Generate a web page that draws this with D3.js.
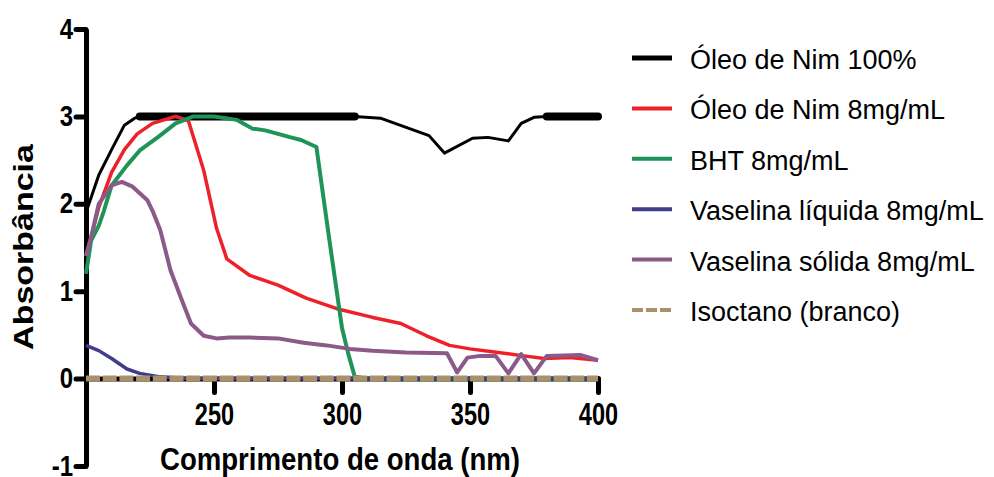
<!DOCTYPE html>
<html>
<head>
<meta charset="utf-8">
<script src="https://cdn.jsdelivr.net/npm/d3@7"></script>
<style>
  body { margin: 0; background: #fff; }
  svg { display: block; }
</style>
</head>
<body>
<svg></svg>
<script>
// Absorbance spectra, values as [nm, absorbance]
const oleoNim100 = [[200,1.9],[205,2.33],[210,2.62],[215,2.9],[219,2.98],[221,3],[260,3],[305,3],
  [315,2.98],[334,2.78],[340,2.58],[351,2.75],[357,2.76],[365,2.72],[370,2.92],[375,2.99],[380,3],[400,3]];
const oleoNim8 = [[200,1.42],[202,1.62],[205,1.96],[210,2.36],[215,2.62],[220,2.8],[226,2.92],[235,3.0],
  [240,2.95],[246,2.38],[251,1.72],[255,1.37],[264,1.18],[275,1.07],[286,0.92],[298,0.8],[312,0.7],
  [323,0.63],[333,0.49],[342,0.38],[350,0.34],[358,0.31],[371,0.26],[379,0.23],[389,0.24],[400,0.21]];
const bht8 = [[200,1.2],[202,1.58],[205,1.75],[207,1.92],[210,2.21],[216,2.44],[221,2.61],[228,2.76],
  [235,2.92],[242,3.0],[250,3.0],[259,2.96],[265,2.86],[270,2.84],[280,2.76],[284,2.73],[290,2.65],
  [295,1.6],[300,0.58],[302.5,0.28],[305,0.02],[310,0],[400,0]];
const vaselinaLiquida = [[200,0.38],[205,0.32],[210,0.23],[216,0.11],[221,0.06],[229,0.02],[240,0],[400,0]];
const vaselinaSolida = [[200,1.4],[202,1.62],[205,2.0],[210,2.21],[214,2.25],[218,2.2],[224,2.04],
  [226,1.92],[229,1.7],[233,1.24],[237,0.93],[241,0.63],[246,0.49],[251,0.46],[256,0.47],[264,0.47],
  [275,0.46],[285,0.41],[294,0.38],[303,0.34],[312,0.32],[325,0.3],[341,0.29],[345,0.07],[349,0.24],
  [354,0.26],[360,0.26],[365,0.06],[370,0.28],[375,0.06],[380,0.26],[393,0.27],[400,0.21]];
const isoctano = [[200,0],[400,0]];

const seriesNames = ["Óleo de Nim 100%", "Óleo de Nim 8mg/mL", "BHT 8mg/mL",
  "Vaselina líquida 8mg/mL", "Vaselina sólida 8mg/mL", "Isoctano (branco)"];
const seriesData = [oleoNim100, oleoNim8, bht8, vaselinaLiquida, vaselinaSolida, isoctano];
const seriesColors = ["#000000", "#ee2129", "#1e9459", "#3f3d8c", "#8b5a88", "#a8916b"];
const seriesWidths = [3, 3.5, 4, 3.5, 4, 6];

const xTicks = [250, 300, 350, 400];
const yTicks = [-1, 0, 1, 2, 3, 4];

const svg = d3.select("svg").attr("width", 994).attr("height", 477);
const font = "'Liberation Sans', Arial, sans-serif";

const x = d3.scaleLinear().domain([200, 400]).range([86, 598]);
const y = d3.scaleLinear().domain([-1, 4]).range([466, 29]);

// squeeze bold axis labels like the original
function squeeze(sel, k) {
  sel.each(function () {
    const w = this.getComputedTextLength();
    d3.select(this).attr("textLength", w * k).attr("lengthAdjust", "spacingAndGlyphs");
  });
}

// x axis at y = 0
const gx = svg.append("g")
  .attr("transform", `translate(0, ${y(0)})`)
  .call(d3.axisBottom(x).tickValues(xTicks).tickSize(14).tickSizeOuter(0).tickPadding(10)
    .tickFormat(d => String(d)));
gx.select(".domain").attr("stroke", "#000").attr("stroke-width", 5);
gx.selectAll(".tick line").attr("stroke", "#000").attr("stroke-width", 5).attr("stroke-linecap", "round");
gx.selectAll(".tick text")
  .attr("font-family", font).attr("font-weight", "bold").attr("font-size", 31).attr("fill", "#000")
  .call(squeeze, 0.76);

// y axis
const gy = svg.append("g")
  .attr("transform", `translate(${x(200)}, 0)`)
  .call(d3.axisLeft(y).tickValues(yTicks).tickSize(10).tickSizeOuter(0).tickPadding(3)
    .tickFormat(d => String(d)));
gy.select(".domain").attr("stroke", "#000").attr("stroke-width", 5);
gy.selectAll(".tick line").attr("stroke", "#000").attr("stroke-width", 5).attr("stroke-linecap", "round");
gy.selectAll(".tick text")
  .attr("font-family", font).attr("font-weight", "bold").attr("font-size", 30).attr("fill", "#000")
  .attr("dy", "0.3em")
  .call(squeeze, 0.8);

// curves
const line = d3.line().x(d => x(d[0])).y(d => y(d[1]));
seriesData.forEach((data, i) => {
  const p = svg.append("path")
    .datum(data)
    .attr("d", line)
    .attr("fill", "none")
    .attr("stroke", seriesColors[i])
    .attr("stroke-width", seriesWidths[i])
    .attr("stroke-linejoin", "round");
  if (i === 5) p.attr("stroke-dasharray", "14,2.7");
  if (i === 0) {
    // saturated parts of the neat oil are drawn heavier
    svg.append("path")
      .datum(oleoNim100)
      .attr("d", d3.line().defined(d => d[1] >= 3).x(d => x(d[0])).y(d => y(d[1])))
      .attr("fill", "none")
      .attr("stroke", "#000")
      .attr("stroke-width", 8)
      .attr("stroke-linecap", "round");
  }
});

// axis titles
svg.append("text")
  .attr("x", 340).attr("y", 470)
  .attr("text-anchor", "middle")
  .attr("font-family", font).attr("font-weight", "bold").attr("font-size", 31)
  .attr("textLength", 360).attr("lengthAdjust", "spacingAndGlyphs")
  .text("Comprimento de onda (nm)");

svg.append("text")
  .attr("transform", "translate(33, 247) scale(0.8, 1) rotate(-90)")
  .attr("text-anchor", "middle")
  .attr("font-family", font).attr("font-weight", "bold").attr("font-size", 34)
  .text("Absorbância");

// legend
const legend = svg.append("g").attr("transform", "translate(632, 58)");
const items = legend.selectAll(".legend-item")
  .data(seriesNames)
  .enter()
  .append("g")
  .attr("class", "legend-item")
  .attr("transform", (d, i) => `translate(0, ${i * 50.4})`);

items.append("line")
  .attr("x1", 0).attr("x2", 40)
  .attr("stroke", (d, i) => seriesColors[i])
  .attr("stroke-width", (d, i) => (i === 0 ? 5 : 4))
  .attr("stroke-dasharray", (d, i) => (i === 5 ? "11,3" : null));

items.append("text")
  .attr("x", 58).attr("y", 11)
  .attr("font-family", font).attr("font-size", 27)
  .attr("fill", "#000")
  .text(d => d);
</script>
</body>
</html>
